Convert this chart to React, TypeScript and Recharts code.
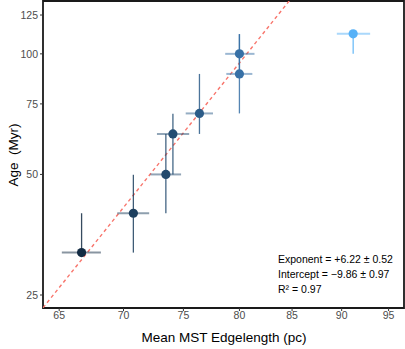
import React from "react"
import { ScatterChart, Scatter, XAxis, YAxis, ErrorBar, ReferenceLine, ReferenceArea } from "recharts"

// mean MST edge length (pc) and cluster age (Myr)
const mst = [66.7, 70.8, 73.5, 74.1, 76.4, 80.0, 80.0, 91.2]
const mstLow = [65.2, 69.5, 72.2, 72.75, 75.2, 78.8, 78.7, 89.5]
const mstHigh = [68.2, 72.1, 74.8, 75.5, 77.6, 81.2, 81.4, 93.0]
const age = [31.9, 40.0, 50.0, 63.1, 71.0, 89.1, 100, 112.2]
const ageLow = [31.9, 31.9, 40.0, 50.0, 63.1, 71.0, 89.1, 100]
const ageHigh = [40.0, 49.9, 63.1, 70.9, 89.1, 112, 112, 112.2]
const colors = ["#132B43", "#1d3f5e", "#234a6d", "#254d72", "#2c5c88", "#3770a6", "#3770a6", "#56B1F7"]

const xTicks = [65, 70, 75, 80, 85, 90, 95]
const yTicks = [25, 50, 75, 100, 125]
const xDomain = [63.8, 96.7]
const yDomain = [23.2, 135.5]

// power-law fit shown in the annotation
const exponent = 6.22
const intercept = -9.86
const fitAt = (x: number) => Math.pow(10, exponent * Math.log10(x) + intercept)

const points = mst.map((x, i) => ({
  x,
  y: age[i],
  ex: [x - mstLow[i], mstHigh[i] - x],
  ey: [age[i] - ageLow[i], ageHigh[i] - age[i]],
}))

const font = "'Liberation Sans', Arial, Helvetica, sans-serif"

export default function App() {
  return (
    <div style={{ position: "absolute", left: 0, top: 0, width: 405, height: 349, fontFamily: font, background: "#fff" }}>
      <ScatterChart width={405} height={349} margin={{ top: 1, right: 1, left: 0, bottom: 1 }}>
        <XAxis
          type="number"
          dataKey="x"
          scale="log"
          domain={xDomain}
          allowDataOverflow
          ticks={xTicks}
          axisLine={false}
          tickSize={3}
          tickMargin={1}
          height={40}
          tickLine={{ stroke: "#333" }}
          tick={{ fill: "#4d4d4d", fontSize: 10.5, fontFamily: font }}
        />
        <YAxis
          type="number"
          dataKey="y"
          scale="log"
          domain={yDomain}
          allowDataOverflow
          ticks={yTicks}
          axisLine={false}
          tickSize={3}
          tickMargin={2}
          width={43}
          tickLine={{ stroke: "#333" }}
          tick={{ fill: "#4d4d4d", fontSize: 10.5, fontFamily: font }}
        />
        <ReferenceLine
          segment={[
            { x: xDomain[0], y: fitAt(xDomain[0]) },
            { x: xDomain[1], y: fitAt(xDomain[1]) },
          ]}
          stroke="#F8766D"
          strokeWidth={1.4}
          strokeDasharray="3.5 3"
          ifOverflow="hidden"
        />
        {points.map((p, i) => (
          <Scatter key={i} data={[p]} fill={colors[i]} isAnimationActive={false} shape={(props: any) => <circle cx={props.cx} cy={props.cy} r={4.6} fill={colors[i]} />}>
            <ErrorBar dataKey="ex" direction="x" width={0} stroke={colors[i]} strokeWidth={2} strokeOpacity={0.5} />
            <ErrorBar dataKey="ey" direction="y" width={0} stroke={colors[i]} strokeWidth={1.3} strokeOpacity={0.85} />
          </Scatter>
        ))}
        <ReferenceArea x1={xDomain[0]} x2={xDomain[1]} y1={yDomain[0]} y2={yDomain[1]} fill="none" stroke="#1a1a1a" strokeWidth={1.8} ifOverflow="visible" />
      </ScatterChart>
      <div style={{ position: "absolute", left: 278, top: 252, fontSize: 10.5, lineHeight: "15px", color: "#000" }}>
        <div>Exponent = +6.22 ± 0.52</div>
        <div>Intercept = −9.86 ± 0.97</div>
        <div>R² = 0.97</div>
      </div>
      <div style={{ position: "absolute", left: 0, right: 0, top: 330, paddingLeft: 43, textAlign: "center", fontSize: 13.5, color: "#000" }}>
        Mean MST Edgelength (pc)
      </div>
      <div
        style={{
          position: "absolute",
          left: 13,
          top: 155,
          transform: "translate(-50%, -50%) rotate(-90deg)",
          fontSize: 13.5,
          whiteSpace: "pre",
          color: "#000",
        }}
      >
        Age  (Myr)
      </div>
    </div>
  )
}
